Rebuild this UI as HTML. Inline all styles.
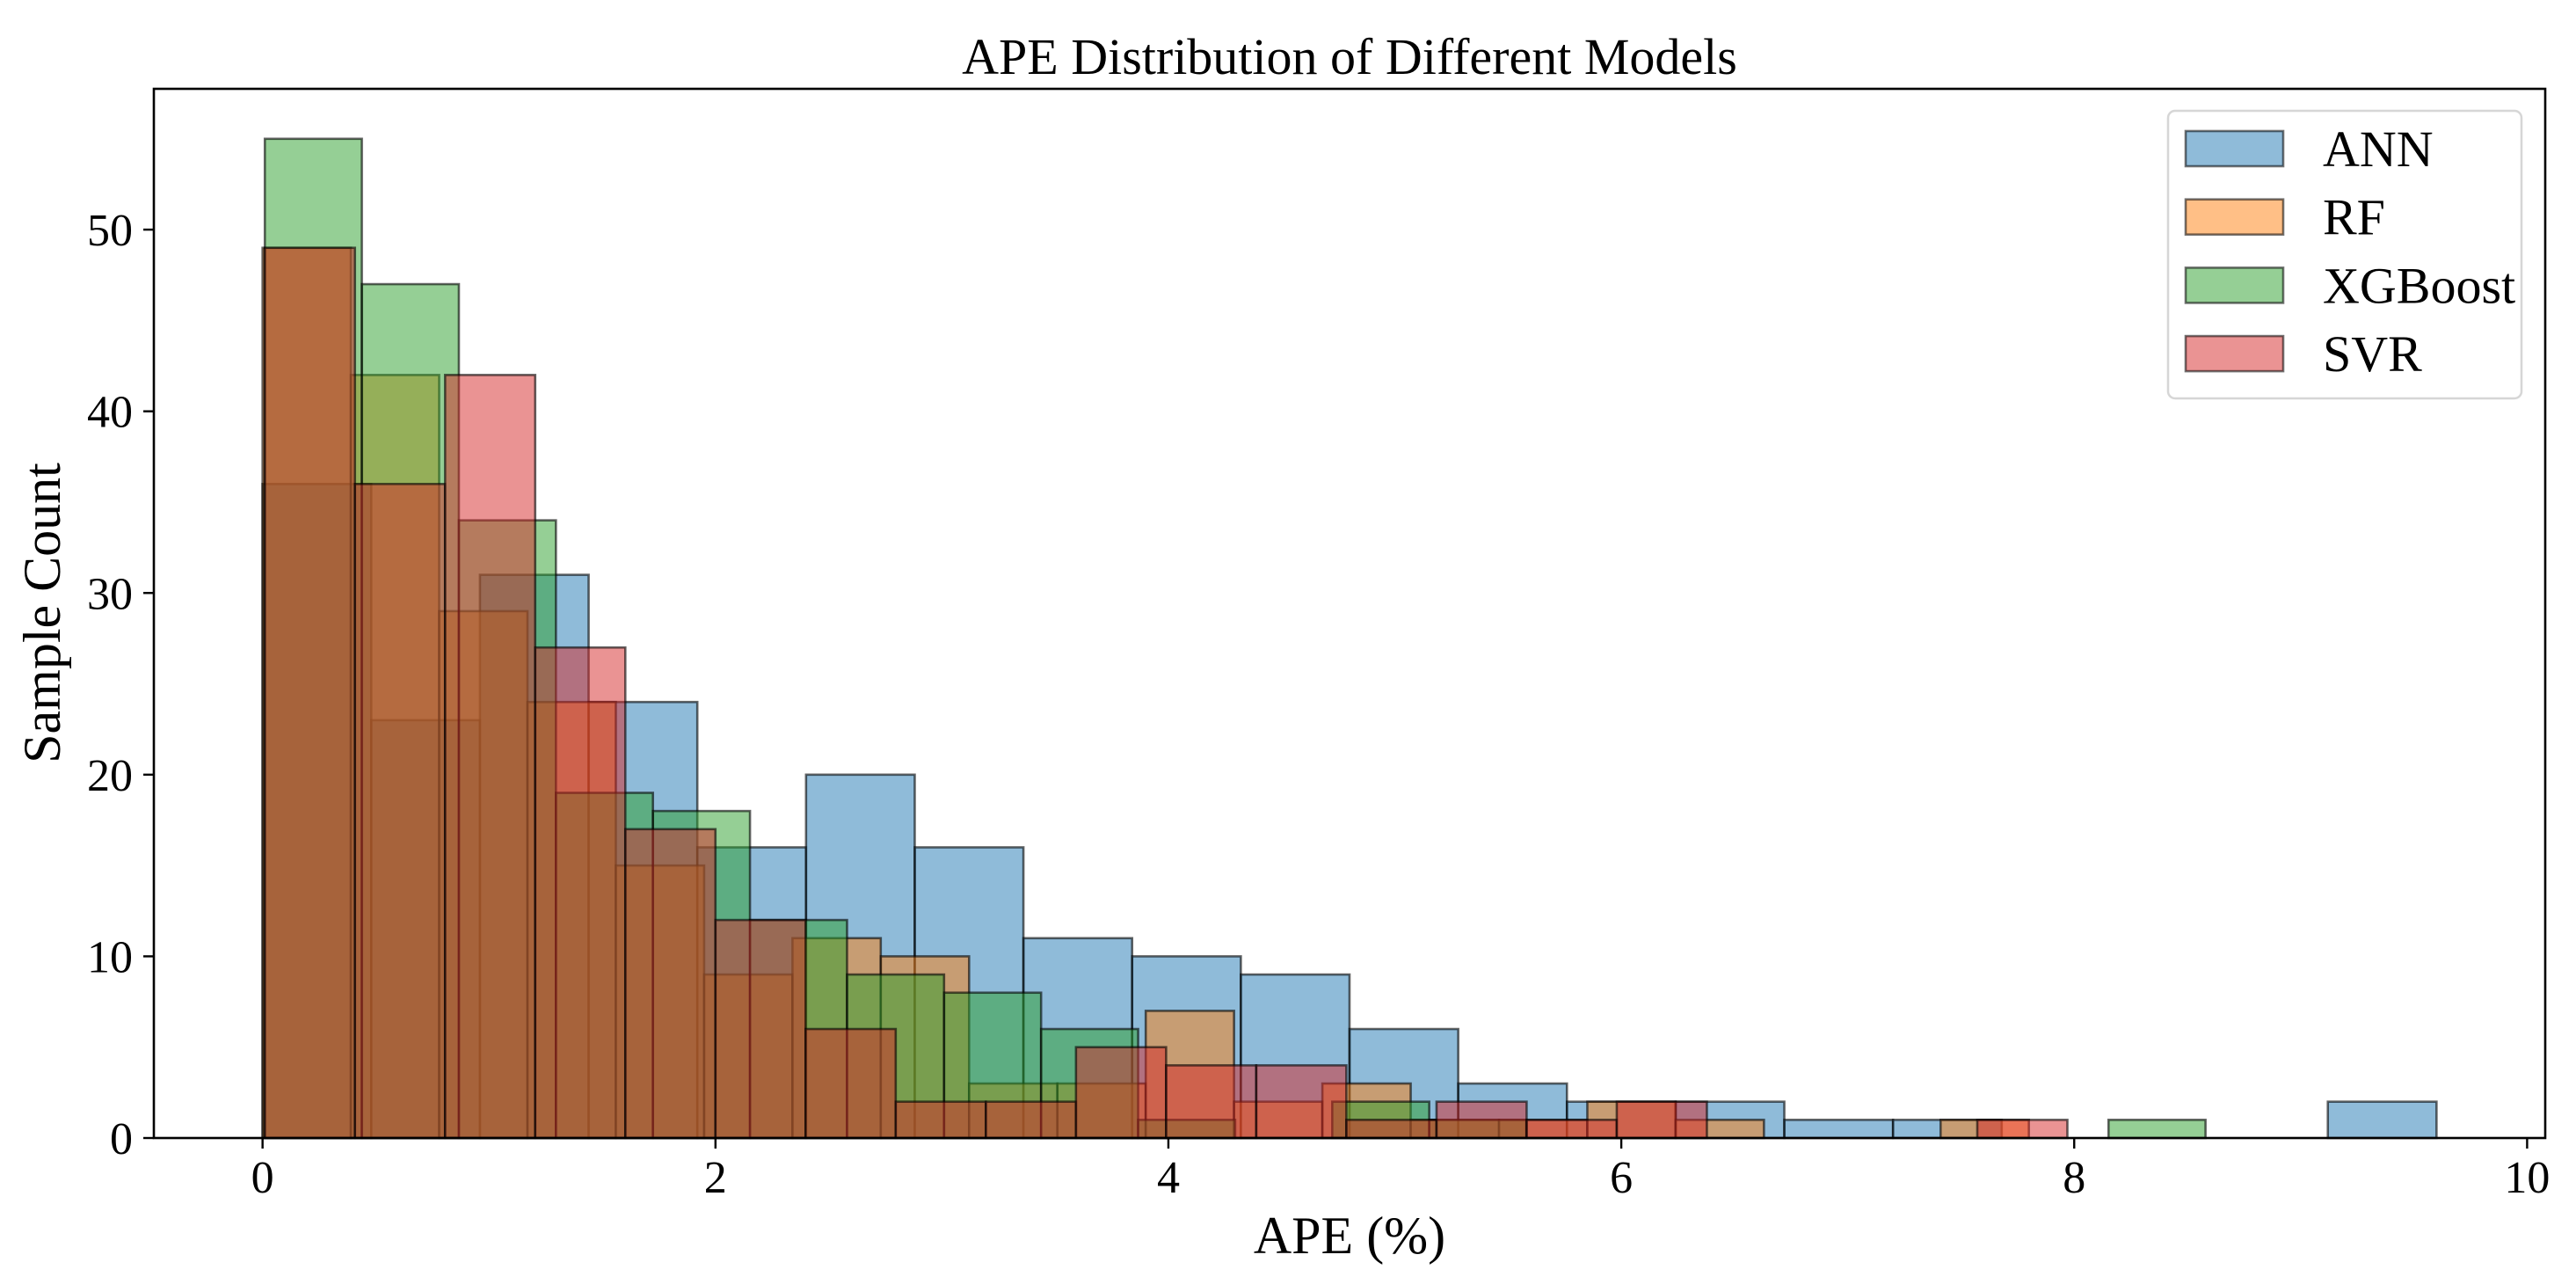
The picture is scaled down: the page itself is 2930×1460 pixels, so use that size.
<!DOCTYPE html>
<html><head><meta charset="utf-8"><style>
html,body{margin:0;padding:0;background:#fff;}
svg{display:block;}
text{font-family:"Liberation Serif","Times New Roman",serif;fill:#000;}
</style></head>
<body>
<svg id="chart" width="2930" height="1460" viewBox="0 0 2930 1460" xmlns="http://www.w3.org/2000/svg">
<rect x="0" y="0" width="2930" height="1460" fill="#fff"/>
<g id="bars"></g>
<g id="axes"></g>
<text x="1535" y="84" font-size="58" text-anchor="middle">APE Distribution of Different Models</text>
<text x="1535" y="1425" font-size="60" text-anchor="middle">APE (%)</text>
<text x="0" y="0" font-size="60" text-anchor="middle" transform="translate(68,697) rotate(-90)">Sample Count</text>
<g id="legend">
<rect x="2466" y="126" width="402" height="327" rx="8" fill="#fff" fill-opacity="0.8" stroke="#d6d6d6" stroke-width="2.5"/>
</g>
</svg>
<script>
const seriesNames = ["ANN", "RF", "XGBoost", "SVR"];
const seriesColors = ["#1f77b4", "#ff7f0e", "#2ca02c", "#d62728"];
const annStart = 0.0, annWidth = 0.48;
const annCounts = [36,23,31,24,16,20,16,11,10,9,6,3,2,2,1,1,0,0,0,2];
const rfStart = 0.0, rfWidth = 0.39;
const rfCounts = [49,42,29,24,15,9,11,10,3,3,7,2,3,1,1,2,1,0,0,1];
const xgbStart = 0.01, xgbWidth = 0.4285;
const xgbCounts = [55,47,34,19,18,12,9,8,6,1,0,2,1,0,0,0,0,0,0,1];
const svrStart = 0.01, svrWidth = 0.398;
const svrCounts = [49,36,42,27,17,12,6,2,2,5,4,4,1,2,1,2,0,0,0,1];
const xTicks = [0,2,4,6,8,10];
const yTicks = [0,10,20,30,40,50];
const xDomain = [-0.48, 10.08];
const yDomain = [0, 57.75];

const NS = "http://www.w3.org/2000/svg";
const L = 175, R = 2895, T = 101, B = 1294;
function xs(v){ return L + (v - xDomain[0]) / (xDomain[1] - xDomain[0]) * (R - L); }
function ys(v){ return B - (v - yDomain[0]) / (yDomain[1] - yDomain[0]) * (B - T); }
function mk(tag, attrs){ const e = document.createElementNS(NS, tag); for (const k in attrs) e.setAttribute(k, attrs[k]); return e; }

const barsG = document.getElementById('bars');
const series = [
  {start: annStart, width: annWidth, counts: annCounts},
  {start: rfStart, width: rfWidth, counts: rfCounts},
  {start: xgbStart, width: xgbWidth, counts: xgbCounts},
  {start: svrStart, width: svrWidth, counts: svrCounts}
];
series.forEach((s, si) => {
  const g = mk('g', {});
  
  
  s.counts.forEach((c, i) => {
    if (c <= 0) return;
    const x0 = xs(s.start + i * s.width), x1 = xs(s.start + (i + 1) * s.width);
    const r = mk('rect', {x: x0, y: ys(c), width: x1 - x0, height: ys(0) - ys(c), fill: seriesColors[si], 'fill-opacity': 0.5, stroke: '#000', 'stroke-opacity': 0.6, 'stroke-width': 2.6});
    
    
    g.appendChild(r);
  });
  barsG.appendChild(g);
});

const axesG = document.getElementById('axes');
const frame = mk('rect', {x: L, y: T, width: R - L, height: B - T, fill: 'none', stroke: '#000', 'stroke-width': 2.6});


axesG.appendChild(frame);
xTicks.forEach(v => {
  const x = xs(v);
  const t = mk('line', {x1: x, x2: x, y1: B, y2: B + 12, stroke: '#000', 'stroke-width': 2.4});
  
  
  axesG.appendChild(t);
  const lb = mk('text', {x: x, y: B + 62, 'font-size': 52, 'text-anchor': 'middle'});
  lb.textContent = String(v);
  
  
  axesG.appendChild(lb);
});
yTicks.forEach(v => {
  const y = ys(v);
  const t = mk('line', {x1: L - 12, x2: L, y1: y, y2: y, stroke: '#000', 'stroke-width': 2.4});
  
  
  axesG.appendChild(t);
  const lb = mk('text', {x: L - 24, y: y + 18, 'font-size': 52, 'text-anchor': 'end'});
  lb.textContent = String(v);
  
  
  axesG.appendChild(lb);
});

const legG = document.getElementById('legend');
seriesNames.forEach((n, i) => {
  const y = 149 + i * 77.7;
  const p = mk('rect', {x: 2486, y: y, width: 111, height: 40, fill: seriesColors[i], 'fill-opacity': 0.5, stroke: '#000', 'stroke-opacity': 0.55, 'stroke-width': 2.6});
  
  
  legG.appendChild(p);
  const t = mk('text', {x: 2642, y: y + 40, 'font-size': 58});
  t.textContent = n;
  
  
  legG.appendChild(t);
});
</script>
</body></html>
